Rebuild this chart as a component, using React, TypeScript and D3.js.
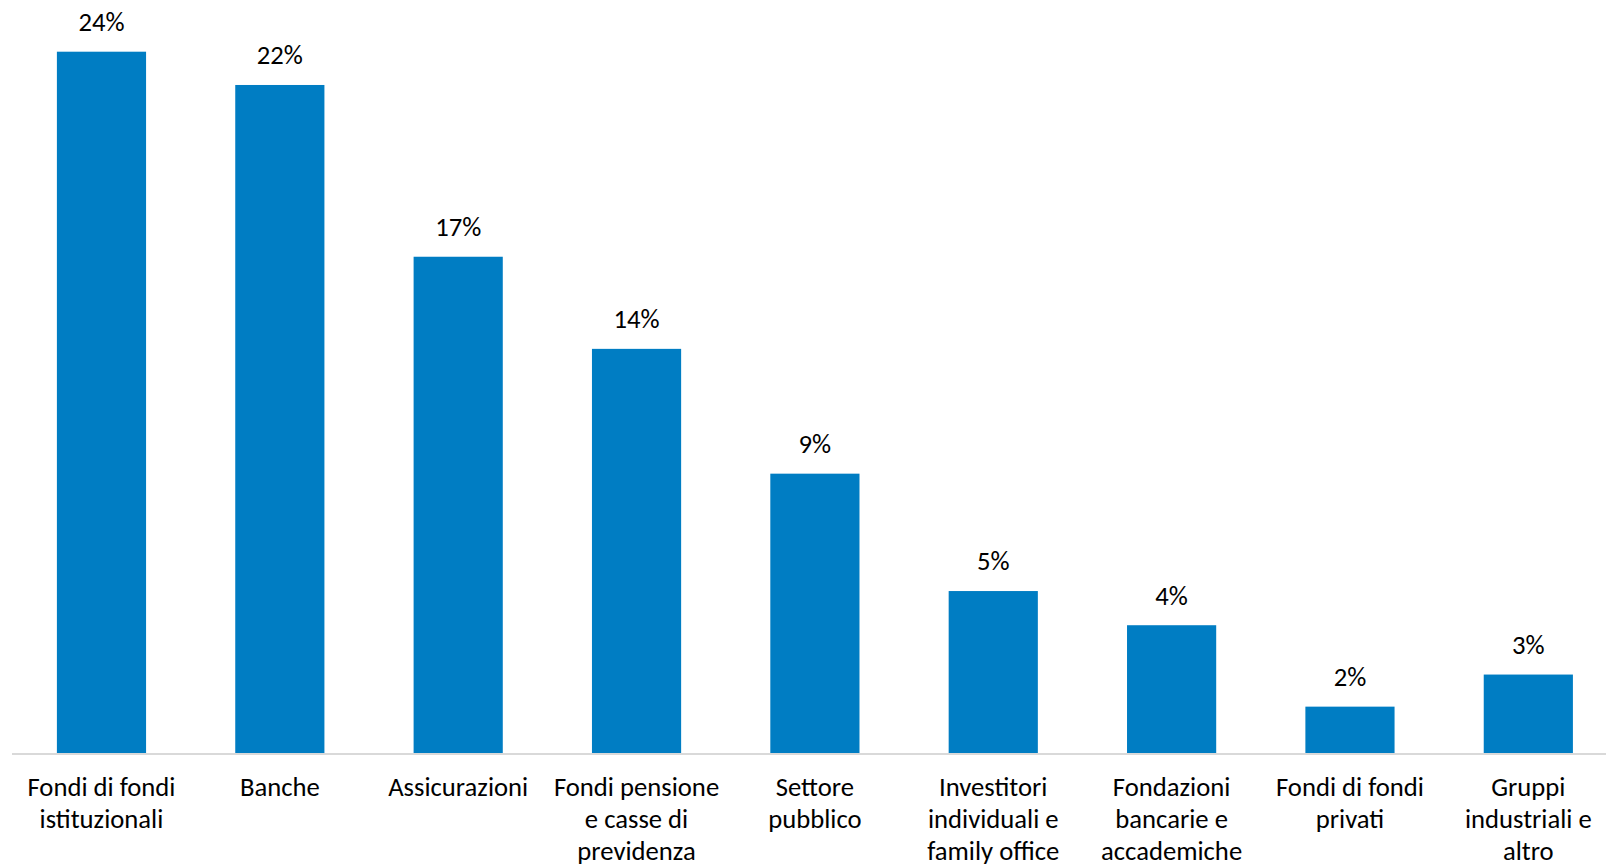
import React from "react";
import * as d3 from "d3";

const categories: string[][] = [
  ["Fondi di fondi", "istituzionali"],
  ["Banche"],
  ["Assicurazioni"],
  ["Fondi pensione", "e casse di", "previdenza"],
  ["Settore", "pubblico"],
  ["Investitori", "individuali e", "family office"],
  ["Fondazioni", "bancarie e", "accademiche"],
  ["Fondi di fondi", "privati"],
  ["Gruppi", "industriali e", "altro"],
];
const values: number[] = [23.6, 22.48, 16.7, 13.6, 9.4, 5.45, 4.3, 1.56, 2.64];

const W = 1606;
const H = 867;
const baseline = 753;
const FONT = "Carlito, Lato, 'Liberation Sans', sans-serif";
const FS = 26.67;

export default function App() {
  const keys = categories.map((_, i) => String(i));
  const x = d3.scaleBand<string>().domain(keys).range([12.3, 1617.5]).paddingInner(0.5).paddingOuter(0.25);
  const y = d3.scaleLinear().domain([0, 23.6]).range([baseline, 51.7]);
  return (
    <svg width={W} height={H} style={{ position: "absolute", left: 0, top: 0, background: "#fff" }}>
      {values.map((v, i) => {
        const bx = x(String(i))!;
        return (
          <g key={i}>
            <rect x={bx} y={y(v)} width={x.bandwidth()} height={baseline - y(v)} fill="#007DC3" />
            <text x={bx + x.bandwidth() / 2} y={y(v) - 20.7} textAnchor="middle" fontFamily={FONT} fontSize={FS} fill="#000">
              {Math.round(v) + "%"}
            </text>
          </g>
        );
      })}
      <line x1={12} x2={W} y1={baseline + 1} y2={baseline + 1} stroke="#D9D9D9" strokeWidth={2} />
      {categories.map((lines, i) => {
        const cx = x(String(i))! + x.bandwidth() / 2;
        return (
          <text key={i} textAnchor="middle" fontFamily={FONT} fontSize={FS} fill="#000">
            {lines.map((l, j) => (
              <tspan key={j} x={cx} y={796 + j * 32.2}>{l}</tspan>
            ))}
          </text>
        );
      })}
    </svg>
  );
}
